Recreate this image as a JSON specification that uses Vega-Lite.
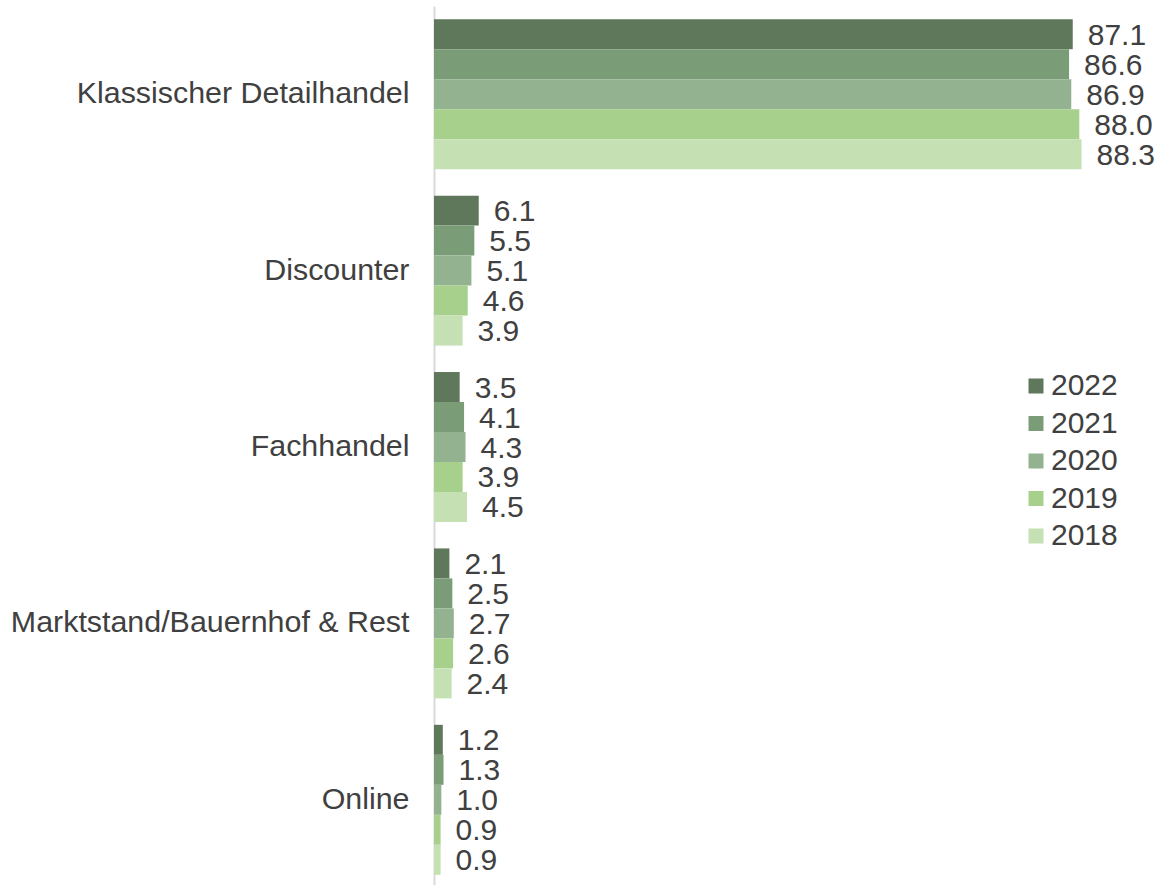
{
  "$schema": "https://vega.github.io/schema/vega-lite/v6.json",
  "autosize": "none",
  "padding": {"left": 434, "top": 6, "right": 0, "bottom": 0},
  "width": 726,
  "height": 882,
  "background": "white",
  "config": {
    "view": {"stroke": null},
    "font": "Liberation Sans",
    "text": {"font": "Liberation Sans"}
  },
  "data": {
    "values": [
      {"kanal": "Klassischer Detailhandel", "jahr": "2022", "wert": 87.1},
      {"kanal": "Klassischer Detailhandel", "jahr": "2021", "wert": 86.6},
      {"kanal": "Klassischer Detailhandel", "jahr": "2020", "wert": 86.9},
      {"kanal": "Klassischer Detailhandel", "jahr": "2019", "wert": 88.0},
      {"kanal": "Klassischer Detailhandel", "jahr": "2018", "wert": 88.3},
      {"kanal": "Discounter", "jahr": "2022", "wert": 6.1},
      {"kanal": "Discounter", "jahr": "2021", "wert": 5.5},
      {"kanal": "Discounter", "jahr": "2020", "wert": 5.1},
      {"kanal": "Discounter", "jahr": "2019", "wert": 4.6},
      {"kanal": "Discounter", "jahr": "2018", "wert": 3.9},
      {"kanal": "Fachhandel", "jahr": "2022", "wert": 3.5},
      {"kanal": "Fachhandel", "jahr": "2021", "wert": 4.1},
      {"kanal": "Fachhandel", "jahr": "2020", "wert": 4.3},
      {"kanal": "Fachhandel", "jahr": "2019", "wert": 3.9},
      {"kanal": "Fachhandel", "jahr": "2018", "wert": 4.5},
      {"kanal": "Marktstand/Bauernhof & Rest", "jahr": "2022", "wert": 2.1},
      {"kanal": "Marktstand/Bauernhof & Rest", "jahr": "2021", "wert": 2.5},
      {"kanal": "Marktstand/Bauernhof & Rest", "jahr": "2020", "wert": 2.7},
      {"kanal": "Marktstand/Bauernhof & Rest", "jahr": "2019", "wert": 2.6},
      {"kanal": "Marktstand/Bauernhof & Rest", "jahr": "2018", "wert": 2.4},
      {"kanal": "Online", "jahr": "2022", "wert": 1.2},
      {"kanal": "Online", "jahr": "2021", "wert": 1.3},
      {"kanal": "Online", "jahr": "2020", "wert": 1.0},
      {"kanal": "Online", "jahr": "2019", "wert": 0.9},
      {"kanal": "Online", "jahr": "2018", "wert": 0.9}
    ]
  },
  "encoding": {
    "y": {
      "field": "kanal",
      "type": "nominal",
      "sort": ["Klassischer Detailhandel", "Discounter", "Fachhandel", "Marktstand/Bauernhof & Rest", "Online"],
      "scale": {"paddingInner": 0.15, "paddingOuter": 0.075},
      "axis": {
        "title": null,
        "ticks": false,
        "grid": false,
        "domain": true,
        "domainColor": "#d9d9d9",
        "domainWidth": 2,
        "labelFontSize": 30.4,
        "labelColor": "#404040",
        "labelPadding": 25,
        "labelFont": "Liberation Sans",
        "labelLimit": 500
      }
    },
    "yOffset": {
      "field": "jahr",
      "type": "nominal",
      "sort": ["2022", "2021", "2020", "2019", "2018"],
      "scale": {"paddingInner": 0, "paddingOuter": 0}
    },
    "x": {
      "field": "wert",
      "type": "quantitative",
      "scale": {"domain": [0, 99], "nice": false},
      "axis": null
    }
  },
  "layer": [
    {
      "mark": {"type": "bar"},
      "encoding": {
        "color": {
          "field": "jahr",
          "type": "nominal",
          "scale": {
            "domain": ["2022", "2021", "2020", "2019", "2018"],
            "range": ["#5f775b", "#7a9c76", "#93b390", "#a8d08d", "#c5e0b3"]
          },
          "legend": {
            "title": null,
            "orient": "none",
            "legendX": 587,
            "legendY": 365,
            "symbolType": "square",
            "symbolSize": 225,
            "symbolStrokeWidth": 0,
            "labelFontSize": 30,
            "labelColor": "#404040",
            "labelFont": "Liberation Sans",
            "labelOffset": 0,
            "rowPadding": 7.5
          }
        }
      }
    },
    {
      "mark": {"type": "text", "align": "left", "baseline": "middle", "dx": 15, "dy": 1.5, "fontSize": 30, "color": "#404040"},
      "encoding": {
        "text": {"field": "wert", "type": "quantitative", "format": ".1f"}
      }
    }
  ]
}
